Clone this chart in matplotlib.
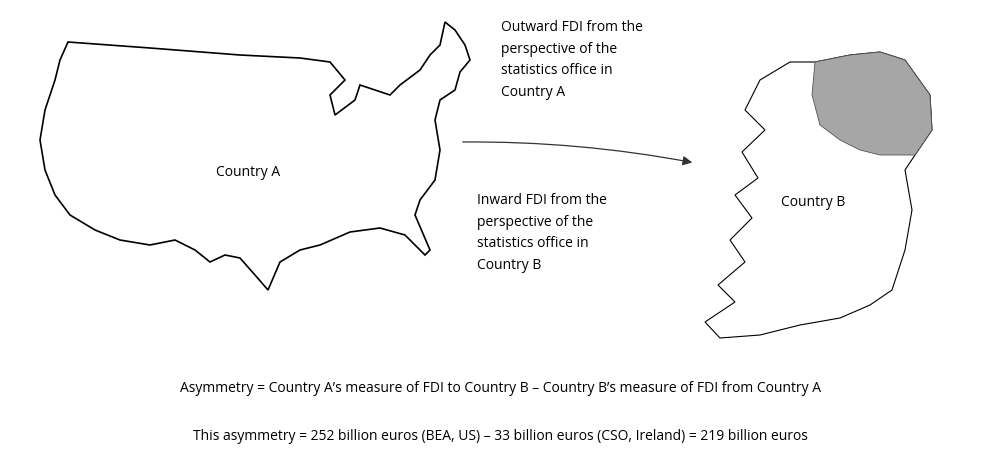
import matplotlib
matplotlib.use("Agg")
import matplotlib.pyplot as plt
from matplotlib.patches import Polygon, FancyArrowPatch

us_outline = [(68,42),(150,48),(240,55),(300,58),(330,62),(345,80),(330,95),(335,115),(355,100),(360,85),(390,95),(400,85),(420,70),(430,55),(440,45),(445,22),(455,30),(465,45),(470,60),(460,72),(455,90),(440,100),(435,120),(440,150),(435,180),(420,200),(415,215),(430,250),(425,255),(405,235),(380,228),(350,232),(320,245),(300,250),(280,262),(268,290),(255,275),(240,258),(225,255),(210,262),(195,250),(175,240),(150,245),(120,240),(95,230),(70,215),(55,195),(45,170),(40,140),(45,110),(55,80),(60,60)]
ireland_outline = [(760,80),(790,62),(815,62),(850,55),(880,52),(905,60),(930,95),(932,130),(915,155),(905,170),(912,210),(905,250),(892,290),(870,305),(840,318),(800,325),(760,335),(720,338),(705,322),(735,302),(718,285),(745,262),(730,240),(752,218),(735,195),(758,178),(742,152),(765,130),(745,110)]
ni_outline = [(815,62),(850,55),(880,52),(905,60),(930,95),(932,130),(915,155),(880,155),(860,150),(840,140),(820,125),(812,95)]

labels = {
    "a": "Country A", "b": "Country B",
    "out": "Outward FDI from the\nperspective of the\nstatistics office in\nCountry A",
    "in": "Inward FDI from the\nperspective of the\nstatistics office in\nCountry B",
    "eq1": "Asymmetry = Country A\u2019s measure of FDI to Country B \u2013 Country B\u2019s measure of FDI from Country A",
    "eq2": "This asymmetry = 252 billion euros (BEA, US) \u2013 33 billion euros (CSO, Ireland) = 219 billion euros",
}

plt.rcParams['font.family'] = ['Open Sans', 'DejaVu Sans']
fig = plt.figure(figsize=(10, 4.7), dpi=100)
ax = fig.add_axes([0, 0, 1, 1])
ax.set_xlim(0, 1000); ax.set_ylim(470, 0); ax.axis('off')

ax.add_patch(Polygon(us_outline, closed=True, fill=False, ec='black', lw=1.2))
ax.add_patch(Polygon(ireland_outline, closed=True, fill=False, ec='black', lw=0.8))
ax.add_patch(Polygon(ni_outline, closed=True, fc='#a6a6a6', ec='#555555', lw=0.6))
ax.add_patch(FancyArrowPatch((460, 142), (695, 163), connectionstyle="arc3,rad=-0.05",
                             arrowstyle='-|>', mutation_scale=14, color='#333333', lw=0.9))

fs = 10
ax.text(248, 172, labels["a"], ha='center', va='center', fontsize=fs)
ax.text(813, 203, labels["b"], ha='center', va='center', fontsize=fs)
ax.text(501, 20, labels["out"], ha='left', va='top', fontsize=fs, linespacing=1.6)
ax.text(477, 193, labels["in"], ha='left', va='top', fontsize=fs, linespacing=1.6)
ax.text(500, 388, labels["eq1"], ha='center', va='center', fontsize=fs)
ax.text(500, 437, labels["eq2"], ha='center', va='center', fontsize=fs)

fig.savefig("out.png", dpi=100)
